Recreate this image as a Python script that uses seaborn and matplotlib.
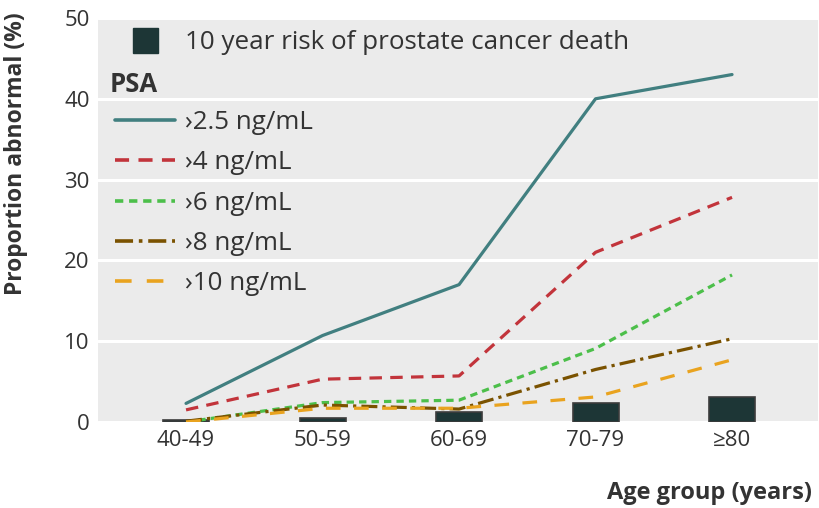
import numpy as np
import pandas as pd
import matplotlib
matplotlib.use("Agg")
import matplotlib.pyplot as plt
import seaborn as sns
from matplotlib.lines import Line2D

# Values
age_groups = ["40-49", "50-59", "60-69", "70-79", "≥80"]
risk_death = [0.3, 0.5, 1.2, 2.3, 3.1]
psa_labels = ["›2.5 ng/mL", "›4 ng/mL", "›6 ng/mL", "›8 ng/mL", "›10 ng/mL"]
psa_25 = [2.3, 10.7, 17.0, 40.0, 43.0]
psa_4 = [1.5, 5.3, 5.7, 21.0, 27.8]
psa_6 = [0.0, 2.4, 2.7, 9.1, 18.2]
psa_8 = [0.1, 2.1, 1.6, 6.5, 10.3]
psa_10 = [0.0, 1.7, 1.7, 3.1, 7.7]

colors = ["#417f80", "#c2343b", "#4cbf4a", "#7a5200", "#e9a31f"]
dashes = ["", (3.9, 2.6), (2.3, 1.6), (5, 1.6, 1, 1.6), (4.6, 4.2)]

sns.set_theme(style="darkgrid", rc={"axes.facecolor": "#ebebeb",
                                     "grid.color": "white", "grid.linewidth": 2.2})
plt.rcParams["font.family"] = ["Open Sans", "DejaVu Sans"]

df = pd.DataFrame({
    "age": age_groups * 5,
    "value": psa_25 + psa_4 + psa_6 + psa_8 + psa_10,
    "psa": [l for l in psa_labels for _ in age_groups],
})
bars = pd.DataFrame({"age": age_groups, "risk": risk_death})

fig = plt.figure(figsize=(8.2, 5.08), dpi=100)
ax = fig.add_axes([0.1195, 0.1693, 0.8781, 0.7953])

sns.barplot(data=bars, x="age", y="risk", color="#1d3636", width=0.337,
            saturation=1, edgecolor="#3c3c3c", linewidth=1.2, ax=ax, zorder=2)
sns.lineplot(data=df, x="age", y="value", hue="psa", style="psa",
             palette=colors, dashes=dict(zip(psa_labels, dashes)),
             linewidth=2.3, legend=False, ax=ax, zorder=3)

ax.set_xlim(-0.645, 4.63)
ax.set_ylim(0, 50)
ax.set_yticks([0, 10, 20, 30, 40, 50])
ax.xaxis.grid(False)
ax.tick_params(axis="both", labelsize=16, colors="#333333", length=0, pad=6)
ax.set_xlabel("Age group (years)", fontsize=17, fontweight="bold", color="#333333")
ax.xaxis.set_label_coords(0.9917, -0.145)
ax.xaxis.label.set_horizontalalignment("right")
ax.set_ylabel("Proportion abnormal (%)", fontsize=16.5, fontweight="bold", color="#333333")
ax.yaxis.set_label_coords(-0.097, 0.664)
for s in ax.spines.values():
    s.set_visible(False)

handles = [Line2D([], [], marker="s", linestyle="none", markersize=18,
                  color="#1d3636"),
           Line2D([], [], linestyle="none")]
labels = ["10 year risk of prostate cancer death", ""]
for lab, c, d in zip(psa_labels, colors, dashes):
    h = Line2D([], [], color=c, linewidth=2.6)
    if d:
        h.set_dashes(d)
    handles.append(h)
    labels.append(lab)
leg = ax.legend(handles, labels, loc="upper left", bbox_to_anchor=(0.02, 0.977),
                frameon=False, fontsize=18.7, handlelength=2.3, labelspacing=0.585,
                handletextpad=0.38, borderaxespad=0, borderpad=0.1)
for t in leg.get_texts():
    t.set_color("#333333")
ax.text(0.0167, 0.836, "PSA", transform=ax.transAxes, fontsize=18.5,
        fontweight="bold", color="#333333", va="center")

fig.savefig("out.png", dpi=100)
